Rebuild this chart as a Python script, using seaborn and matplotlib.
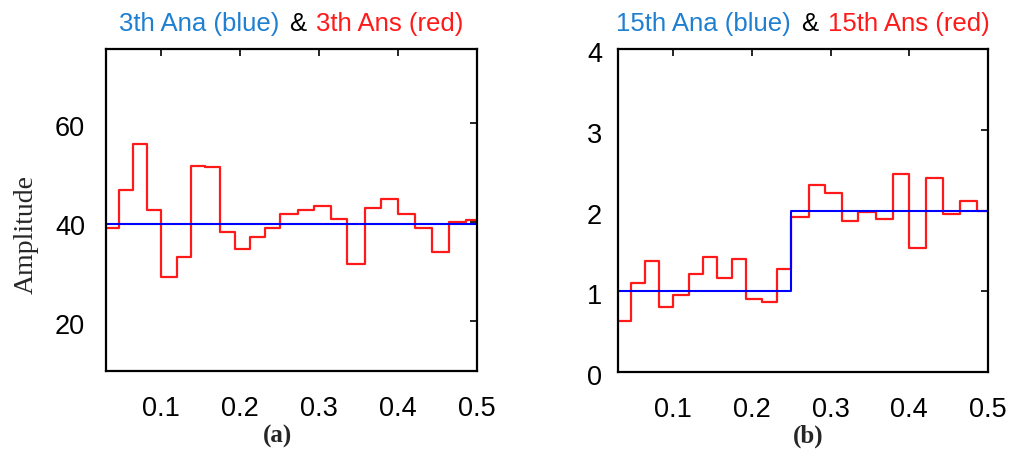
import matplotlib
matplotlib.use("Agg")
import matplotlib.pyplot as plt
from matplotlib.offsetbox import TextArea, HPacker, AnchoredOffsetbox
from matplotlib.transforms import ScaledTranslation
import pandas as pd
import seaborn as sns

# Shared frequency bin edges (normalized frequency)
edges = [0.030, 0.046, 0.064, 0.082, 0.100, 0.120, 0.138, 0.156, 0.175,
         0.193, 0.213, 0.232, 0.250, 0.273, 0.293, 0.315, 0.335, 0.358,
         0.379, 0.400, 0.421, 0.443, 0.465, 0.486, 0.500]

# 3rd harmonic: analytical (constant) and ANSYS result per bin
h3_ana_level = 39.6
h3_ans = [38.8, 46.5, 55.9, 42.4, 28.9, 33.0, 51.4, 51.1, 38.0, 34.7, 37.1,
          38.8, 41.7, 42.4, 43.4, 40.7, 31.6, 42.8, 44.7, 41.7, 38.8, 34.0,
          40.1, 40.4]

# 15th harmonic: analytical steps and ANSYS result per bin
h15_ana_x = [0.030, 0.250, 0.500]
h15_ana = [1.0, 2.0, 2.0]
h15_ans = [0.63, 1.10, 1.38, 0.80, 0.95, 1.21, 1.43, 1.16, 1.40, 0.91, 0.87,
           1.27, 1.92, 2.31, 2.22, 1.87, 1.98, 1.90, 2.45, 1.53, 2.40, 1.96,
           2.12, 2.00]

x_ticks = [0.1, 0.2, 0.3, 0.4, 0.5]
x_ticklabels = ["0.1", "0.2", "0.3", "0.4", "0.5"]

sns.set_theme(style="white")
plt.rcParams["font.family"] = ["Liberation Sans", "DejaVu Sans"]

BLUE_TXT = "#1f7fd0"
RED = "#ff1a1a"
BLUE = "#0000ff"

fig = plt.figure(figsize=(10.19, 4.5), dpi=100)
ax_a = fig.add_axes([0.104, 0.1756, 0.364, 0.7156])
ax_b = fig.add_axes([0.6065, 0.1733, 0.363, 0.7178])


def stair_frame(x_edges, vals):
    return pd.DataFrame({"x": x_edges, "y": list(vals) + [vals[-1]]})


def style_axes(ax, yticks, ylim, ypad):
    ax.set_xlim(0.030, 0.500)
    ax.set_ylim(*ylim)
    ax.set_xticks(x_ticks)
    ax.set_xticklabels(x_ticklabels)
    ax.set_yticks(yticks)
    ax.tick_params(direction="in", length=5, width=1.2, top=True, right=True,
                   labelsize=19.5, colors="black")
    ax.tick_params(axis="x", pad=18)
    ax.tick_params(axis="y", pad=ypad)
    shift = ScaledTranslation(0, -3 / 100, fig.dpi_scale_trans)
    for lab in ax.get_yticklabels():
        lab.set_transform(lab.get_transform() + shift)
    for s in ax.spines.values():
        s.set_color("black")
        s.set_linewidth(1.6)
    ax.set_xlabel("")
    ax.set_ylabel("")


def two_color_title(ax, left, right):
    props = dict(size=18.5, family="Liberation Sans")
    parts = [TextArea(left, textprops=dict(color=BLUE_TXT, **props)),
             TextArea("&", textprops=dict(color="black", **props)),
             TextArea(right, textprops=dict(color=RED, **props))]
    box = HPacker(children=parts, align="baseline", pad=0, sep=7)
    anchored = AnchoredOffsetbox(loc="lower center", child=box, pad=0, frameon=False,
                                 bbox_to_anchor=(0.5, 1.04), bbox_transform=ax.transAxes,
                                 borderpad=0)
    ax.add_artist(anchored)


# Panel (a)
df_a = stair_frame(edges, h3_ans)
sns.lineplot(data=df_a, x="x", y="y", drawstyle="steps-post", color=RED,
             linewidth=1.6, ax=ax_a)
sns.lineplot(x=[0.030, 0.500], y=[h3_ana_level, h3_ana_level], color=BLUE,
             linewidth=1.5, ax=ax_a)
style_axes(ax_a, [20, 40, 60], (10, 75), ypad=15)
two_color_title(ax_a, "3th Ana (blue)", "3th Ans (red)")

# Panel (b)
df_b = stair_frame(edges, h15_ans)
sns.lineplot(data=df_b, x="x", y="y", drawstyle="steps-post", color=RED,
             linewidth=1.6, ax=ax_b)
sns.lineplot(x=h15_ana_x, y=h15_ana, drawstyle="steps-post", color=BLUE,
             linewidth=1.5, ax=ax_b)
style_axes(ax_b, [0, 1, 2, 3, 4], (0, 4), ypad=11.5)
two_color_title(ax_b, "15th Ana (blue)", "15th Ans (red)")

# Shared y label and panel captions
fig.text(26 / 1019, 1 - 235 / 450, "Amplitude", rotation=90, ha="center", va="center",
         family="Liberation Serif", size=20)
fig.text(277 / 1019, 1 - 436 / 450, "(a)", ha="center", va="center",
         family="Liberation Serif", fontweight="bold", size=18)
fig.text(808 / 1019, 1 - 436 / 450, "(b)", ha="center", va="center",
         family="Liberation Serif", fontweight="bold", size=18)

fig.savefig("out.png", dpi=100, facecolor="white")
